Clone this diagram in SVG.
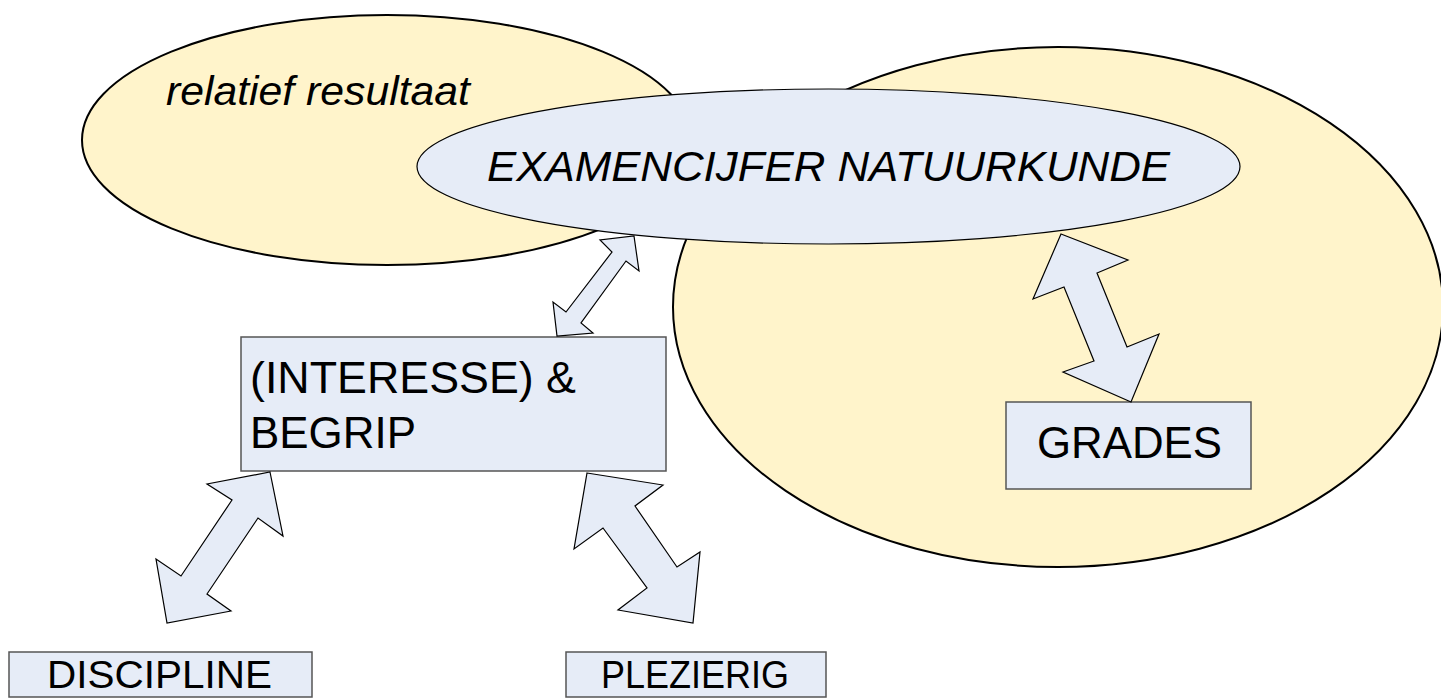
<svg xmlns="http://www.w3.org/2000/svg" width="1441" height="698" viewBox="0 0 1441 698">
<style>
.yel{fill:#FFF4CB;stroke:#000;stroke-width:2}
.blu{fill:#E6ECF7;stroke:#000;stroke-width:1.2}
.box{fill:#E6ECF7;stroke:#555;stroke-width:1.5}
.arr{fill:#E6ECF7;stroke:#000;stroke-width:1.2;stroke-linejoin:miter}
.t{font-family:"Liberation Sans",Arial,sans-serif;fill:#000}
.i{font-style:italic}
</style>
<rect width="1441" height="698" fill="#fff"/>
<g id="relatief">
<ellipse class="yel" cx="387" cy="140" rx="305" ry="125"/>
<text class="t i" x="166" y="105" font-size="40" textLength="304" lengthAdjust="spacingAndGlyphs">relatief resultaat</text>
</g>
<g id="grades-area">
<ellipse class="yel" cx="1058" cy="307" rx="385" ry="260"/>
</g>
<g id="examencijfer">
<ellipse class="blu" cx="828.5" cy="166.5" rx="411.5" ry="77.5"/>
<text class="t i" x="487" y="181" font-size="42" textLength="683" lengthAdjust="spacingAndGlyphs">EXAMENCIJFER NATUURKUNDE</text>
</g>
<g id="interesse">
<rect class="box" x="241" y="337" width="425" height="134"/>
<text class="t" x="250" y="393" font-size="44" textLength="326" lengthAdjust="spacingAndGlyphs">(INTERESSE) &amp;</text>
<text class="t" x="250" y="448" font-size="44" textLength="166" lengthAdjust="spacingAndGlyphs">BEGRIP</text>
</g>
<g id="grades">
<rect class="box" x="1006" y="402" width="245" height="87"/>
<text class="t" x="1037" y="458" font-size="44" textLength="185" lengthAdjust="spacingAndGlyphs">GRADES</text>
</g>
<g id="discipline">
<rect class="box" x="9" y="652" width="303" height="45"/>
<text class="t" x="47" y="688" font-size="39" textLength="225" lengthAdjust="spacingAndGlyphs">DISCIPLINE</text>
</g>
<g id="plezierig">
<rect class="box" x="566" y="652" width="260" height="45"/>
<text class="t" x="601" y="688" font-size="39" textLength="188" lengthAdjust="spacingAndGlyphs">PLEZIERIG</text>
</g>
<g id="connectors">
<polygon class="arr" points="634,236 639,271 626,261 581,323 593,333 557,336 553,302 566,312 612,252 600,240"/>
<polygon class="arr" points="1061,234 1128,260 1097,273 1127,347 1159,334 1131,402 1063,372 1094,361 1064,287 1033,299"/>
<polygon class="arr" points="270,472 283,536 258,518 207,594 231,611 167,623 156,559 181,576 232,500 207,484"/>
<polygon class="arr" points="587,473 663,485 635,506 677,567 700,552 693,623 618,610 647,588 603,528 574,549"/>
</g>
</svg>
